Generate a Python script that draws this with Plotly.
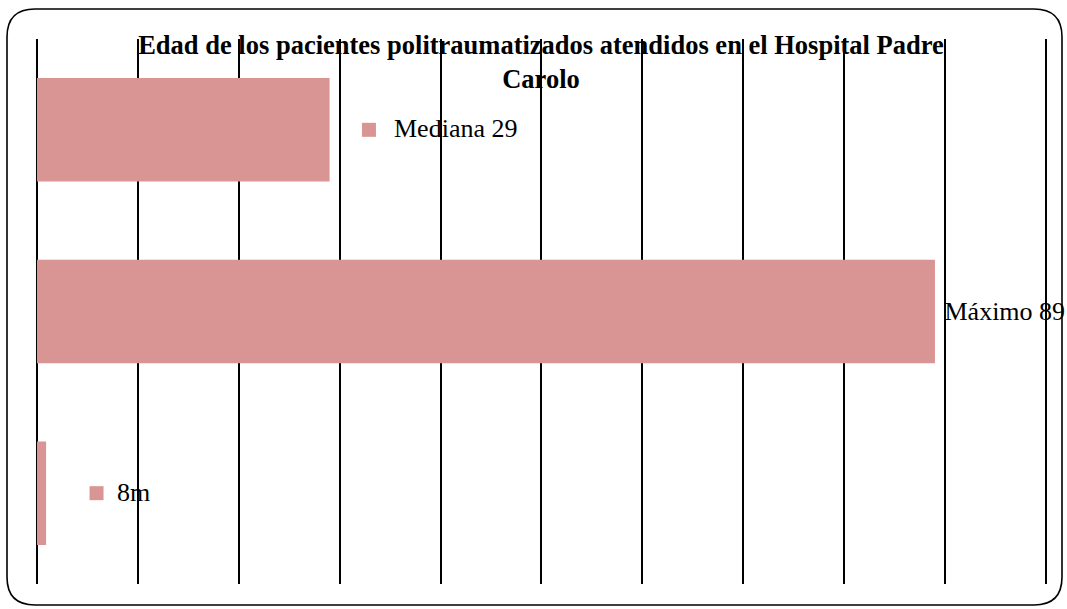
import plotly.graph_objects as go

# Data
categories = ["Mediana", "Máximo", "Mínimo"]
values = [29, 89, 0.9]
bar_labels = ["", " Máximo 89", ""]
# marker-style data labels (placed beside bars)
label_cats = ["Mediana", "Mínimo"]
label_texts = ["Mediana 29", "8m"]
label_x = [32.9, 5.9]
label_shift = [23, 18]

title = "Edad de los pacientes politraumatizados atendidos en el Hospital Padre<br>Carolo"

BAR_COLOR = "#D99594"
FONT = "Liberation Serif, Times New Roman, serif"

W, H = 1067, 609
L, R, T, B = 37, 16, 39, 25
pw, ph = W - L - R, H - T - B

fig = go.Figure()
fig.add_trace(go.Bar(
    x=values, y=categories, orientation="h",
    marker=dict(color=BAR_COLOR, line=dict(width=0)),
    width=0.57,
    text=bar_labels, textposition="outside", cliponaxis=False,
    constraintext="none",
    textfont=dict(family=FONT, size=26, color="black"),
    hoverinfo="skip",
))
fig.add_trace(go.Scatter(
    x=label_x, y=label_cats, mode="markers",
    marker=dict(symbol="square", size=14, color=BAR_COLOR, line=dict(width=0)),
    hoverinfo="skip", cliponaxis=False,
))
for cx, cy, t, s in zip(label_x, label_cats, label_texts, label_shift):
    fig.add_annotation(x=cx, y=cy, xref="x", yref="y", text=t, showarrow=False,
                       xanchor="left", yanchor="middle", xshift=s, yshift=1,
                       font=dict(family=FONT, size=26, color="black"))

# rounded border
def px_x(p):
    return (p - L) / pw
def px_y(p):
    return (H - B - p) / ph
x0, x1, y0, y1, r = 7, 1062, 9, 605, 28
path = (f"M {px_x(x0+r)},{px_y(y0)} L {px_x(x1-r)},{px_y(y0)} "
        f"Q {px_x(x1)},{px_y(y0)} {px_x(x1)},{px_y(y0+r)} "
        f"L {px_x(x1)},{px_y(y1-r)} Q {px_x(x1)},{px_y(y1)} {px_x(x1-r)},{px_y(y1)} "
        f"L {px_x(x0+r)},{px_y(y1)} Q {px_x(x0)},{px_y(y1)} {px_x(x0)},{px_y(y1-r)} "
        f"L {px_x(x0)},{px_y(y0+r)} Q {px_x(x0)},{px_y(y0)} {px_x(x0+r)},{px_y(y0)} Z")
fig.add_shape(type="path", path=path, xref="paper", yref="paper",
              line=dict(color="black", width=1.6), fillcolor="rgba(0,0,0,0)", layer="above")

fig.update_layout(
    width=W, height=H, autosize=False,
    margin=dict(l=L, r=R, t=T, b=B),
    paper_bgcolor="white", plot_bgcolor="white",
    showlegend=False,
    bargap=0.43,
    title=dict(text=title, x=(541 - L) / pw, xref="paper", xanchor="center",
               y=1 - 54 / H, yref="container", yanchor="top",
               font=dict(family=FONT, size=26.5, color="black", weight="bold")),
    xaxis=dict(range=[0, 100.5], dtick=10, tick0=0, showgrid=True, gridcolor="black",
               gridwidth=1.6, zeroline=True, zerolinecolor="black", zerolinewidth=1.6,
               showticklabels=False, ticks="", showline=False, fixedrange=True),
    yaxis=dict(autorange="reversed", showticklabels=False, ticks="", showgrid=False,
               zeroline=False, showline=False, fixedrange=True),
)

fig.write_html("out.html", config={"displayModeBar": False},
               post_script="document.body.style.margin='0';document.body.style.overflow='hidden';")
